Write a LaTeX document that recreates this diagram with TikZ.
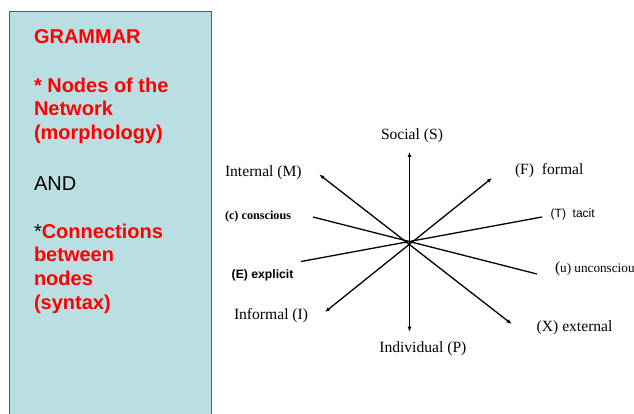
\documentclass[tikz,border=0pt]{standalone}
\usepackage{fontspec}
\setmainfont{Liberation Serif}
\newfontfamily\arial{Liberation Sans}
\usetikzlibrary{arrows.meta}
\definecolor{panelblue}{RGB}{186,223,227}
\definecolor{panelborder}{RGB}{90,90,90}
\definecolor{gred}{RGB}{255,0,0}
\tikzset{
  lbl/.style={anchor=base west, inner sep=0pt, outer sep=0pt},
  serif/.style={lbl, font=\fontsize{15.6}{18}\selectfont},
  gram/.style={lbl, font=\arial\bfseries\fontsize{20}{23}\selectfont, text=gred},
  axis/.style={line width=1.3pt, black},
  arr/.style={axis, {Latex[length=5pt,width=4pt]}-{Latex[length=5pt,width=4pt]}}
}
\begin{document}
\begin{tikzpicture}[x=1pt,y=-1pt]
\useasboundingbox (0,0) rectangle (634,414);
\clip (0,0) rectangle (634,414);
% left panel
\fill[panelblue] (9,12) rectangle (211,420);
\draw[panelborder, line width=1pt] (9,420) -- (9,12) -- (211,12) -- (211,420);
\node[gram] (g1) at (34,44) {GRAMMAR};
\node[gram] (g2) at (34,92.7) {* Nodes of the};
\node[gram] (g3) at (34,116) {Network};
\node[gram] (g4) at (34,139.3) {(morphology)};
\node[lbl, font=\arial\fontsize{20}{23}\selectfont] (g5) at (34,190) {AND};
\node[gram] (g6) at (34,238.3) {{\mdseries\color{black}*}Connections};
\node[gram] (g7) at (34,261.7) {between};
\node[gram] (g8) at (34,285.5) {nodes};
\node[gram] (g9) at (34,309) {(syntax)};
% axes
\coordinate (c0) at (409.3,241.7);
\coordinate (sTop) at (409.5,152);
\coordinate (pBot) at (409.5,331.7);
\coordinate (mEnd) at (319.3,174.5);
\coordinate (xEnd) at (511.7,324);
\coordinate (iEnd) at (325,312);
\coordinate (fEnd) at (492,178);
\coordinate (eEnd) at (301,261.5);
\coordinate (tEnd) at (542,217);
\coordinate (cEnd) at (313,217);
\coordinate (uEnd) at (537,274);
\draw[arr] (sTop) -- (pBot);
\draw[arr] (mEnd) -- (xEnd);
\draw[arr] (iEnd) -- (fEnd);
\draw[axis] (eEnd) -- (tEnd);
\draw[axis] (cEnd) -- (uEnd);
% labels
\node[serif] (lS) at (381,139.3) {Social (S)};
\node[serif] (lM) at (225,176.7) {Internal (M)};
\node[lbl, font=\bfseries\fontsize{12.2}{14}\selectfont] (lc) at (225,219.3) {(c) conscious};
\node[lbl, font=\arial\bfseries\fontsize{12.2}{14}\selectfont] (lE) at (231.7,278.3) {(E) explicit};
\node[serif] (lI) at (234,319.3) {Informal (I)};
\node[serif] (lP) at (379.3,352.3) {Individual (P)};
\node[serif] (lF) at (515,175) {(F)\ \ formal};
\node[lbl, font=\arial\fontsize{12}{14}\selectfont] (lT) at (550.7,218) {(T)\ \ tacit};
\node[lbl] (lu) at (555,272.7) {{\fontsize{15.6}{18}\selectfont(}{\fontsize{13.2}{15}\selectfont u) unconscious}};
\node[serif] (lX) at (536.7,331.7) {(X) external};
\end{tikzpicture}
\end{document}
